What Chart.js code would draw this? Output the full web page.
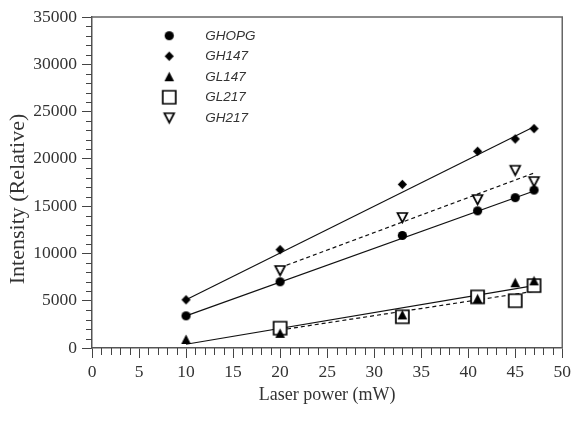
<!DOCTYPE html>
<html>
<head>
<meta charset="utf-8">
<style>
  body { margin: 0; background: #fff; }
  #wrap { width: 575px; height: 422px; }
</style>
</head>
<body>
<div id="wrap">
  <canvas id="myChart"></canvas>
</div>
<script src="https://cdn.jsdelivr.net/npm/chart.js"></script>
<script>
  // measured points, laser power in mW
  const powerMw = [10, 20, 33, 41, 45, 47];
  const ghopg = [3400, 7000, 11900, 14500, 15900, 16700];
  const gh147 = [5100, 10400, 17300, 20800, 22100, 23200];
  const gl147 = [900, 1550, 3500, 5200, 6900, 7100];
  const powerMw217 = [20, 33, 41, 45, 47];
  const gl217 = [2100, 3300, 5400, 5000, 6600];
  const gh217 = [8200, 13800, 15700, 18800, 17600];

  // fitted lines, end points
  const fitX = [10, 47];
  const ghopgFit = [3400, 16600];
  const gh147Fit = [5100, 23400];
  const gl147Fit = [400, 6600];
  const fitX217 = [20, 47];
  const gl217Fit = [1900, 6000];
  const gh217Fit = [8500, 18500];

  const pts = (xs, ys) => xs.map((x, i) => ({ x, y: ys[i] }));

  // marker images, so legend and plot share the same sizes
  function marker(kind) {
    const c = document.createElement("canvas");
    c.width = c.height = 17;
    const g = c.getContext("2d");
    g.fillStyle = "#000";
    g.strokeStyle = "#000";
    g.lineWidth = 1.7;
    g.beginPath();
    if (kind === "circle") {
      g.arc(8.5, 8.5, 4.6, 0, Math.PI * 2);
      g.fill();
    } else if (kind === "diamond") {
      g.moveTo(8.5, 3.8);
      g.lineTo(13.1, 8.5);
      g.lineTo(8.5, 13.2);
      g.lineTo(3.9, 8.5);
      g.closePath();
      g.fill();
    } else if (kind === "triangle") {
      g.moveTo(8.5, 3.5);
      g.lineTo(13.3, 13);
      g.lineTo(3.7, 13);
      g.closePath();
      g.fill();
    } else if (kind === "square") {
      g.fillStyle = "#fff";
      g.rect(2, 2, 13, 13);
      g.fill();
      g.stroke();
    } else {
      g.fillStyle = "#fff";
      g.moveTo(3.6, 4);
      g.lineTo(13.4, 4);
      g.lineTo(8.5, 13.5);
      g.closePath();
      g.fill();
      g.stroke();
    }
    return c;
  }

  const pointSet = (label, data, kind) => ({
    label,
    data,
    pointStyle: marker(kind),
    pointRadius: 5,
    showLine: false,
  });

  const fitSet = (data, dash) => ({
    label: "fit",
    fit: true,
    data,
    showLine: true,
    pointRadius: 0,
    borderColor: "#111",
    borderWidth: 1.2,
    borderDash: dash,
  });

  // minor ticks and the top/right frame
  const frame = {
    id: "frame",
    afterDraw(chart) {
      const { ctx, chartArea: a, scales } = chart;
      ctx.save();
      ctx.strokeStyle = "#444";
      ctx.lineWidth = 1;
      ctx.beginPath();
      for (let v = 1; v < 50; v++) {
        if (v % 5 === 0) continue;
        const px = Math.round(scales.x.getPixelForValue(v)) + 0.5;
        ctx.moveTo(px, a.bottom);
        ctx.lineTo(px, a.bottom + 7);
      }
      for (let v = 1000; v < 35000; v += 1000) {
        if (v % 5000 === 0) continue;
        const py = Math.round(scales.y.getPixelForValue(v)) + 0.5;
        ctx.moveTo(a.left - 6, py);
        ctx.lineTo(a.left, py);
      }
      ctx.stroke();
      ctx.strokeStyle = "#666";
      ctx.lineWidth = 1.5;
      ctx.beginPath();
      ctx.moveTo(a.left, a.top);
      ctx.lineTo(a.right, a.top);
      ctx.lineTo(a.right, a.bottom);
      ctx.stroke();
      ctx.restore();
    },
  };

  // move the legend into the upper left of the plot
  const legendSpot = {
    id: "legendSpot",
    afterLayout(chart) {
      chart.legend.left = 133;
      chart.legend.top = 22;
    },
  };

  Chart.defaults.font.family = "'Liberation Serif', serif";
  Chart.defaults.color = "#333";

  new Chart(document.getElementById("myChart"), {
    type: "scatter",
    data: {
      datasets: [
        pointSet("GHOPG", pts(powerMw, ghopg), "circle"),
        pointSet("GH147", pts(powerMw, gh147), "diamond"),
        pointSet("GL147", pts(powerMw, gl147), "triangle"),
        pointSet("GL217", pts(powerMw217, gl217), "square"),
        pointSet("GH217", pts(powerMw217, gh217), "down"),
        fitSet(pts(fitX, ghopgFit), []),
        fitSet(pts(fitX, gh147Fit), []),
        fitSet(pts(fitX, gl147Fit), []),
        fitSet(pts(fitX217, gl217Fit), [4, 3]),
        fitSet(pts(fitX217, gh217Fit), [4, 3]),
      ],
    },
    options: {
      responsive: true,
      maintainAspectRatio: false,
      animation: false,
      layout: { padding: { top: 17, right: 11, left: 0, bottom: 0 } },
      plugins: {
        tooltip: { enabled: false },
        legend: {
          position: "chartArea",
          align: "start",
          labels: {
            usePointStyle: true,
            pointStyleWidth: 58.5,
            padding: 7,
            color: "#333",
            font: { family: "'Liberation Sans', Arial, sans-serif", size: 13.5, style: "italic" },
            filter: (item, data) => !data.datasets[item.datasetIndex].fit,
          },
        },
      },
      scales: {
        x: {
          type: "linear",
          min: 0,
          max: 50,
          afterFit: (s) => { s.height = 74; },
          ticks: { stepSize: 5, padding: 4, font: { size: 17.5 }, color: "#333", callback: (v) => String(v) },
          grid: { drawOnChartArea: false, tickLength: 10, color: "#444" },
          border: { color: "#555", width: 1.5 },
          title: {
            display: true,
            text: "Laser power (mW)",
            font: { size: 18 },
            color: "#333",
            padding: { top: 0, bottom: 16 },
          },
        },
        y: {
          min: 0,
          max: 35000,
          afterFit: (s) => { s.width = 92; },
          ticks: { stepSize: 5000, padding: 5, font: { size: 17.5 }, color: "#333", callback: (v) => String(v) },
          grid: { drawOnChartArea: false, tickLength: 10, color: "#444" },
          border: { color: "#555", width: 1.5 },
          title: {
            display: true,
            text: "Intensity (Relative)\u00a0\u00a0\u00a0\u00a0\u00a0\u00a0",
            font: { size: 22 },
            color: "#333",
            padding: { top: 5, bottom: 0 },
          },
        },
      },
    },
    plugins: [frame, legendSpot],
  });
</script>
</body>
</html>
